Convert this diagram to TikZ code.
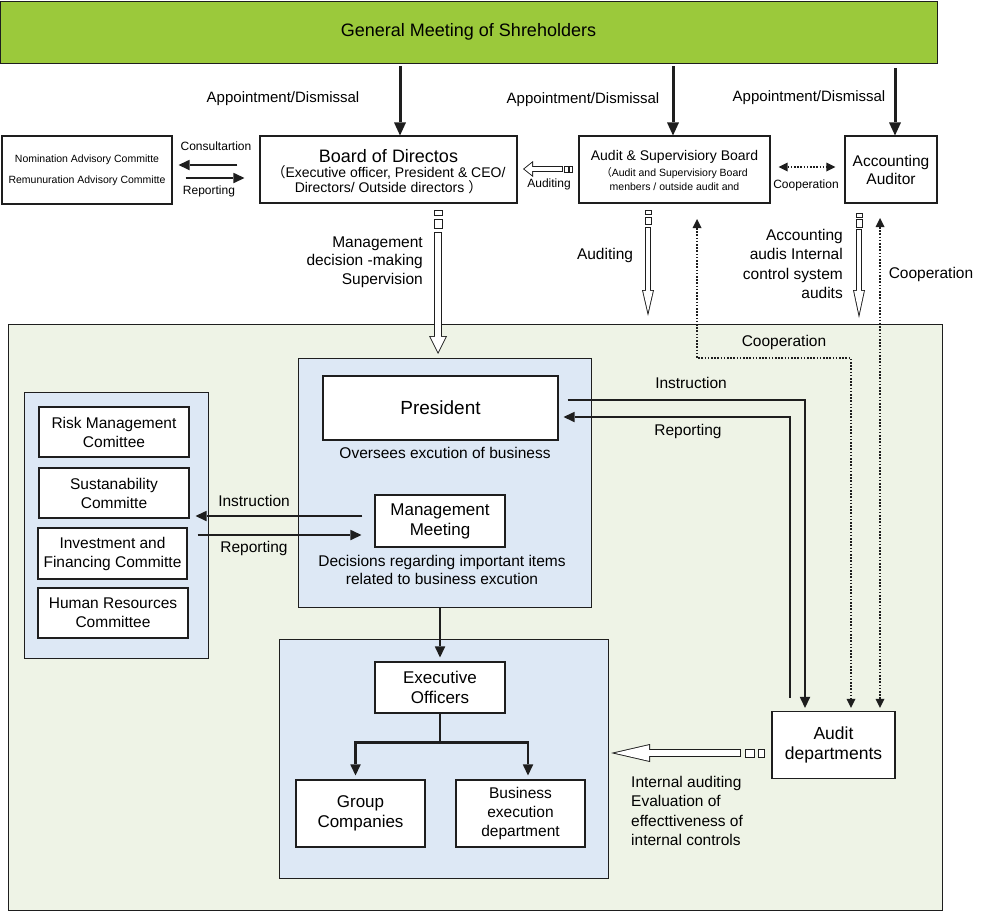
\documentclass[tikz,border=0pt]{standalone}
\usepackage{fontspec}
\setmainfont{Liberation Sans}
\newfontfamily\cjkfont{Noto Sans CJK SC}
\usetikzlibrary{arrows.meta,calc}

\definecolor{gmsgreen}{RGB}{155,201,59}
\definecolor{orgbg}{RGB}{238,243,230}
\definecolor{orgblue}{RGB}{221,232,245}
\definecolor{darkline}{RGB}{30,30,30}

\newcommand{\fs}[2]{\fontsize{#1}{#2}\selectfont}

% hollow block arrow: start, end, shaft width, head width, head length
\newcommand{\hollowarrow}[5]{%
  \pgfmathsetmacro\hin{#3-1.8}%
  \pgfmathsetmacro\hback{0.9*sqrt((#4/2)^2+(#5)^2)/(#4/2)}%
  \pgfmathsetmacro\hlen{#5-0.9-\hback}%
  \pgfmathsetmacro\hwid{#4*\hlen/#5}%
  \draw[darkline, line width=#3pt, -{Triangle[length=#5pt,width=#4pt,line width=0pt]}] (#1) -- (#2);
  \draw[white, line width=\hin pt, shorten <=0.9pt, shorten >=\hback pt,
        -{Triangle[length=\hlen pt,width=\hwid pt,line width=0pt]}] (#1) -- (#2);
}
% small boxes at the tail of a hollow arrow
\newcommand{\tailbox}[2]{\draw[darkline, line width=0.8pt, fill=white] (#1) rectangle (#2);}

\begin{document}
\begin{tikzpicture}[x=1pt, y=-1pt,
    every node/.style={inner sep=0pt, align=center, text=black},
    box/.style={draw=darkline, line width=1.1pt, fill=white},
    area/.style={draw=darkline, line width=1pt},
    txt/.style={font=\fs{15.5}{19}},
    smalltxt/.style={font=\fs{12}{14}},
    apptxt/.style={font=\fs{15}{17}},
    heavy/.style={darkline, line width=3pt, -{Triangle[length=13pt,width=12pt,line width=0pt]}},
    flow/.style={darkline, line width=2.5pt, -{Triangle[length=11pt,width=10.5pt,line width=0pt]}},
    coop/.style={darkline, line width=1.6pt, dash pattern=on 1.6pt off 1.6pt,
      {Triangle[length=9pt,width=9pt,line width=0pt]}-{Triangle[length=9pt,width=9pt,line width=0pt]}},
  ]
  \useasboundingbox (0,0) rectangle (1000,911);

  % shareholders
  \node[area, fill=gmsgreen, minimum width=937pt, minimum height=62pt, font=\fs{18}{20}] (gms) at (468.5,32) {General Meeting of Shreholders};

  % lower organisation areas
  \node[area, fill=orgbg, minimum width=934pt, minimum height=586pt] (org) at (475,617) {};
  \node[area, fill=orgblue, minimum width=184pt, minimum height=266pt] (commarea) at (116,525) {};
  \node[area, fill=orgblue, minimum width=293pt, minimum height=249pt] (presarea) at (444.5,482.5) {};
  \node[area, fill=orgblue, minimum width=329pt, minimum height=239pt] (exarea) at (443.5,758.5) {};

  % top row
  \node[box, minimum width=170pt, minimum height=68pt, font=\fs{10.5}{21}] (nom) at (87,170) {Nomination Advisory Committe\\Remunuration Advisory Committe};
  \node[box, minimum width=257pt, minimum height=67pt, font=\fs{14}{15}] (bod) at (388.5,169.5)
    {{\fs{18}{20}\rule{0pt}{17pt}Board of Directos}\\[0pt]{\cjkfont （}Executive officer, President \& CEO/\\Directors/ Outside directors {\cjkfont ）}};
  \node[box, minimum width=191pt, minimum height=67pt, font=\fs{10.5}{14}] (asb) at (674.5,169.5)
    {{\fs{14}{16}\rule{0pt}{13pt}Audit \& Supervisiory Board}\\[2pt]{\cjkfont （}Audit and Supervisiory Board\\menbers / outside audit and};
  \node[box, minimum width=92pt, minimum height=67pt, font=\fs{15.5}{18}] (acc) at (891,169.5) {Accounting\\Auditor};

  % appointment
  \node[apptxt] (app1) at (283,99) {Appointment/Dismissal};
  \node[apptxt] (app2) at (583,100) {Appointment/Dismissal};
  \node[apptxt] (app3) at (809,98) {Appointment/Dismissal};
  \coordinate (app1top) at (400,66);
  \coordinate (app2top) at (673,66);
  \coordinate (app3top) at (895,68);
  \draw[heavy] (app1top) -- (app1top |- bod.north);
  \draw[heavy] (app2top) -- (app2top |- asb.north);
  \draw[heavy] (app3top) -- (app3top |- acc.north);

  % advisory committees
  \node[smalltxt] (consult) at (216,146) {Consultartion};
  \node[smalltxt] (nomrep) at (209,191) {Reporting};
  \draw[flow, shorten <=22pt, shorten >=6pt] (bod.west |- 0,165) -- (nom.east |- 0,165);
  \draw[flow, shorten <=13pt, shorten >=15pt] (nom.east |- 0,178) -- (bod.west |- 0,178);

  % auditing of the board
  \coordinate (asbaudS) at (563,169);
  \coordinate (asbaudE) at (523,169);
  \tailbox{564,166}{568,172}
  \tailbox{569,166}{572.5,172}
  \hollowarrow{asbaudS}{asbaudE}{6}{16}{10}
  \node[smalltxt] (asbaud) at (549,184) {Auditing};
  \draw[coop, shorten <=8pt, shorten >=9pt] (asb.east |- 0,167) -- (acc.west |- 0,167);
  \node[smalltxt] (coop1) at (806,185) {Cooperation};

  % supervision
  \tailbox{434,210}{442,215}
  \tailbox{434,219}{442,228}
  \coordinate (mgS) at (438,232);
  \coordinate (mgE) at (438,354);
  \hollowarrow{mgS}{mgE}{7.5}{18}{18}
  \node[txt, align=right, anchor=east, font=\fs{15.5}{18.5}] (mgtxt) at (423,262) {Management\\decision -making\\Supervision};

  \tailbox{645,210}{651,214}
  \tailbox{645,217}{651,224}
  \coordinate (asbdS) at (648,227);
  \coordinate (asbdE) at (648,316);
  \hollowarrow{asbdS}{asbdE}{6}{12}{26}
  \node[txt] (audtxt) at (605,255) {Auditing};

  \tailbox{856,213}{862,217}
  \tailbox{856,219}{862,227}
  \coordinate (accdS) at (859,229);
  \coordinate (accdE) at (859,318);
  \hollowarrow{accdS}{accdE}{6}{12}{28}
  \node[txt, align=right, anchor=east, font=\fs{15.5}{19.3}] (acctxt) at (843,264) {Accounting\\audis Internal\\control system\\audits};

  % president and management meeting
  \node[box, minimum width=235pt, minimum height=64pt, font=\fs{19}{22}] (pres) at (440.5,408) {President};
  \node[txt] (presnote) at (445,453) {Oversees excution of business};
  \node[box, minimum width=130pt, minimum height=52pt, font=\fs{17}{20}] (mm) at (440,521) {Management\\Meeting};
  \node[txt, font=\fs{15.5}{17.5}] (mmnote) at (442,570) {Decisions regarding important items\\related to business excution};

  % committees
  \node[box, txt, minimum width=150pt, minimum height=50pt] (risk) at (114,432) {Risk Management\\Comittee};
  \node[box, txt, minimum width=150pt, minimum height=50pt] (sust) at (114,493) {Sustanability\\Committe};
  \node[box, txt, minimum width=149pt, minimum height=51pt] (inv) at (112.5,553.5) {Investment and\\Financing Committe};
  \node[box, txt, minimum width=150pt, minimum height=50pt] (hr) at (113,613) {Human Resources\\Committee};
  \draw[flow, shorten <=12pt, shorten >=6pt] (mm.west |- 0,516) -- (sust.east |- 0,516);
  \draw[flow, shorten <=10pt, shorten >=13pt] (inv.east |- 0,535) -- (mm.west |- 0,535);
  \node[txt] (instr2) at (254,501) {Instruction};
  \node[txt] (rep2) at (254,548) {Reporting};

  % executive officers
  \node[box, minimum width=130pt, minimum height=51pt, font=\fs{17}{20}] (exoff) at (440,687.5) {Executive\\Officers};
  \node[box, minimum width=129pt, minimum height=67pt, font=\fs{17}{20}] (grp) at (360.5,813.5) {Group\\Companies};
  \node[box, txt, minimum width=129pt, minimum height=67pt] (bus) at (520.5,813.5) {Business\\execution\\department};
  \draw[flow, shorten >=4pt] (presarea.south -| exoff.north) -- (exoff.north);
  \draw[flow, shorten >=4pt] (exoff.south) -- ++(0,29) coordinate (split) -| ([xshift=-5pt]grp.north);
  \draw[flow, shorten >=4pt] (split) -| ([xshift=7.5pt]bus.north);

  % audit departments
  \node[box, minimum width=123pt, minimum height=67pt, font=\fs{17.5}{20}] (dept) at (833.5,745) {Audit\\departments};
  \draw[flow, shorten <=9pt, shorten >=3pt] (pres.east |- 0,400) -| (805,0 |- dept.north);
  \draw[flow, shorten <=13pt, shorten >=5pt] (790,0 |- dept.north) |- (pres.east |- 0,417);
  \node[txt] (instr1) at (691,383) {Instruction};
  \node[txt] (rep3) at (688,431) {Reporting};

  \coordinate (coopA) at (697,219);
  \coordinate (coopB) at (851,358);
  \coordinate (coopC) at (880,218);
  \draw[coop, shorten >=3pt] (coopA) |- (coopB) -- (coopB |- dept.north);
  \draw[coop, shorten >=3pt] (coopC) -- (coopC |- dept.north);
  \node[txt] (coop2) at (784,342) {Cooperation};
  \node[txt] (coop3) at (931,274) {Cooperation};

  \tailbox{745,749}{754,757}
  \tailbox{758,749}{764,757}
  \coordinate (iaS) at (741,753);
  \coordinate (iaE) at (611,753);
  \hollowarrow{iaS}{iaE}{8}{18}{39}
  \node[txt, align=left, anchor=west, font=\fs{15.5}{19.3}] (iatxt) at (631,811) {Internal auditing\\Evaluation of\\effecttiveness of\\internal controls};
\end{tikzpicture}
\end{document}
